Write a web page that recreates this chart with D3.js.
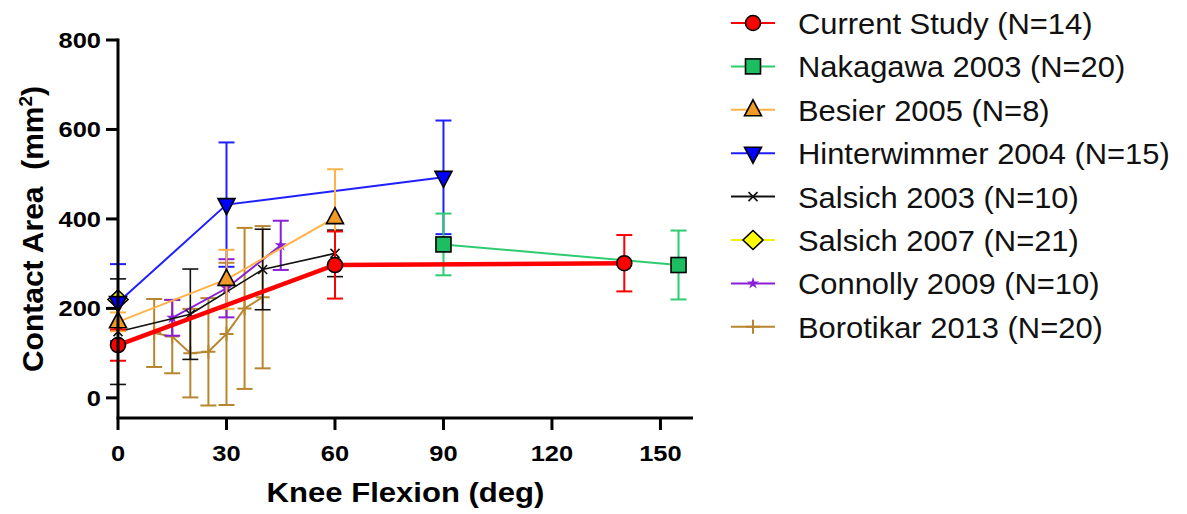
<!DOCTYPE html>
<html><head><meta charset="utf-8">
<script src="https://cdn.jsdelivr.net/npm/d3@7"></script>
<style>body{margin:0;background:#fff}svg{display:block}</style>
</head><body>
<svg id="c" width="1187" height="514"></svg>
<script>
// ---- data ----
const xTicks = [0, 30, 60, 90, 120, 150];
const yTicks = [0, 200, 400, 600, 800];

const currentX = [0, 60, 140],  currentY = [118, 297, 301], currentE = [35, 75, 63];
const nakaX = [90, 155],        nakaY = [343, 297],         nakaE = [69, 77];
const besierX = [0, 30, 60],    besierY = [170, 265, 403],  besierE = [21, 66, 108];
const hinterX = [0, 30, 90],    hinterY = [213, 432, 493],  hinterE = [86, 139, 127];
const sals03X = [0, 20, 40, 60], sals03Y = [148, 187, 287, 323], sals03E = [118, 101, 90, 52];
const sals07X = [0],            sals07Y = [220],            sals07E = [0];
const connX = [15, 30, 45],     connY = [179, 245, 341],    connE = [40, 65, 55];
const boroX = [10, 15, 20, 25, 30, 35, 40];
const boroY = [145, 137, 100, 103, 143, 200, 225];
const boroE = [76, 82, 99, 120, 159, 180, 159];

const names = ["Current Study (N=14)", "Nakagawa 2003 (N=20)", "Besier 2005 (N=8)",
  "Hinterwimmer 2004 (N=15)", "Salsich 2003 (N=10)", "Salsich 2007 (N=21)",
  "Connolly 2009 (N=10)", "Borotikar 2013 (N=20)"];

const series = [
  {name: names[0], x: currentX, y: currentY, e: currentE, line: "#ff0000", lw: 4.5, sym: "circle", fill: "#ff0000"},
  {name: names[1], x: nakaX, y: nakaY, e: nakaE, line: "#2ecc71", lw: 2, sym: "square", fill: "#1dbd62"},
  {name: names[2], x: besierX, y: besierY, e: besierE, line: "#ffb246", lw: 2, sym: "triUp", fill: "#f09a26"},
  {name: names[3], x: hinterX, y: hinterY, e: hinterE, line: "#1f1fff", lw: 2, sym: "triDown", fill: "#0000ff"},
  {name: names[4], x: sals03X, y: sals03Y, e: sals03E, line: "#111111", lw: 1.6, sym: "x", fill: "#111111"},
  {name: names[5], x: sals07X, y: sals07Y, e: sals07E, line: "#f2f200", lw: 2, sym: "diamond", fill: "#ffff00"},
  {name: names[6], x: connX, y: connY, e: connE, line: "#8a1fd8", lw: 2, sym: "star", fill: "#8a1fd8"},
  {name: names[7], x: boroX, y: boroY, e: boroE, line: "#b8862e", lw: 2, sym: "plus", fill: "#b8862e"}
];

const svg = d3.select("#c");
const FONT = "'Liberation Sans', Arial, Helvetica, sans-serif";
const x = d3.scaleLinear().domain([0, 159]).range([118, 693]);
const y = d3.scaleLinear().domain([-45, 800]).range([418, 40]);

function stretch(sel, k) {
  sel.each(function () {
    const L = this.getComputedTextLength();
    d3.select(this).attr("textLength", L * k).attr("lengthAdjust", "spacingAndGlyphs");
  });
}

function marker(g, s, cx, cy) {
  if (s.sym === "circle") {
    g.append("circle").attr("cx", cx).attr("cy", cy).attr("r", 7.5).attr("fill", s.fill).attr("stroke", "#000").attr("stroke-width", 1.6);
  } else if (s.sym === "square") {
    g.append("rect").attr("x", cx - 7.5).attr("y", cy - 7.5).attr("width", 15).attr("height", 15).attr("fill", s.fill).attr("stroke", "#000").attr("stroke-width", 1.6);
  } else if (s.sym === "triUp") {
    g.append("path").attr("d", `M${cx},${cy - 10}L${cx + 8.5},${cy + 6}L${cx - 8.5},${cy + 6}Z`).attr("fill", s.fill).attr("stroke", "#000").attr("stroke-width", 1.6);
  } else if (s.sym === "triDown") {
    g.append("path").attr("d", `M${cx},${cy + 10}L${cx + 8.5},${cy - 6}L${cx - 8.5},${cy - 6}Z`).attr("fill", s.fill).attr("stroke", "#000").attr("stroke-width", 1.6);
  } else if (s.sym === "diamond") {
    g.append("path").attr("d", `M${cx},${cy - 9.5}L${cx + 10},${cy}L${cx},${cy + 9.5}L${cx - 10},${cy}Z`).attr("fill", s.fill).attr("stroke", "#000").attr("stroke-width", 1.6);
  } else if (s.sym === "x") {
    g.append("path").attr("d", `M${cx - 4.5},${cy - 4.5}L${cx + 4.5},${cy + 4.5}M${cx - 4.5},${cy + 4.5}L${cx + 4.5},${cy - 4.5}`).attr("stroke", s.fill).attr("stroke-width", 1.6);
  } else if (s.sym === "star") {
    g.append("path").attr("d", d3.symbol(d3.symbolStar, 45)()).attr("transform", `translate(${cx},${cy})`).attr("fill", s.fill);
  } else if (s.sym === "plus") {
    g.append("path").attr("d", `M${cx - 7},${cy}L${cx + 7},${cy}M${cx},${cy - 7}L${cx},${cy + 7}`).attr("stroke", s.fill).attr("stroke-width", 2);
  }
}

// ---- series (drawn bottom to top: last legend entry first) ----
const plot = svg.append("g");
[...series].reverse().forEach(s => {
  const g = plot.append("g");
  const pts = s.x.map((d, i) => [d, s.y[i], s.e[i]]);
  const ew = Math.min(s.lw, 2);
  pts.forEach(p => {
    if (p[2] <= 0) return;
    const cx = x(p[0]), y1 = y(p[1] + p[2]), y0 = y(p[1] - p[2]);
    g.append("line").attr("x1", cx).attr("x2", cx).attr("y1", y1).attr("y2", y0).attr("stroke", s.line).attr("stroke-width", ew);
    [y1, y0].forEach(yy => g.append("line").attr("x1", cx - 8).attr("x2", cx + 8).attr("y1", yy).attr("y2", yy).attr("stroke", s.line).attr("stroke-width", ew));
  });
  g.append("path").attr("d", d3.line().x(p => x(p[0])).y(p => y(p[1]))(pts))
    .attr("fill", "none").attr("stroke", s.line).attr("stroke-width", s.lw);
  pts.forEach(p => marker(g, s, x(p[0]), y(p[1])));
});

// ---- axes ----
const ax = svg.append("g").attr("stroke", "#000").attr("stroke-width", 3);
ax.append("line").attr("x1", x(0)).attr("x2", x(0)).attr("y1", y(800) - 1.5).attr("y2", 418);
ax.append("line").attr("x1", x(0) - 1.5).attr("x2", x(159)).attr("y1", 418).attr("y2", 418);
yTicks.forEach(t => ax.append("line").attr("x1", x(0) - 12).attr("x2", x(0)).attr("y1", y(t)).attr("y2", y(t)));
xTicks.forEach(t => ax.append("line").attr("x1", x(t)).attr("x2", x(t)).attr("y1", 418).attr("y2", 430));

const yl = svg.append("g").selectAll("text").data(yTicks).join("text")
  .attr("x", x(0) - 17).attr("y", d => y(d) + 8).attr("text-anchor", "end")
  .attr("font-family", FONT).attr("font-weight", "bold").attr("font-size", 22.5).text(d => d);
stretch(yl, 1.13);
const xl = svg.append("g").selectAll("text").data(xTicks).join("text")
  .attr("x", d => x(d)).attr("y", 461).attr("text-anchor", "middle")
  .attr("font-family", FONT).attr("font-weight", "bold").attr("font-size", 22.5).text(d => d);
stretch(xl, 1.13);

const xt = svg.append("text").attr("x", (x(0) + x(159)) / 2).attr("y", 502).attr("text-anchor", "middle")
  .attr("font-family", FONT).attr("font-weight", "bold").attr("font-size", 27).text("Knee Flexion (deg)");
stretch(xt, 1.15);
const yt = svg.append("text").attr("transform", `translate(43,${(y(800) + 418) / 2}) rotate(-90)`).attr("text-anchor", "middle")
  .attr("font-family", FONT).attr("font-weight", "bold").attr("font-size", 30);
yt.append("tspan").text("Contact Area\u00a0\u00a0(mm");
yt.append("tspan").attr("font-size", 19).attr("dy", -11).text("2");
yt.append("tspan").attr("dy", 11).text(")");

// ---- legend ----
const leg = svg.append("g");
series.forEach((s, i) => {
  const cy = 23 + i * 43.4;
  const g = leg.append("g");
  g.append("line").attr("x1", 731).attr("x2", 775).attr("y1", cy).attr("y2", cy).attr("stroke", s.line).attr("stroke-width", 2);
  marker(g, s, 753, cy);
  const t = g.append("text").attr("x", 798).attr("y", cy + 11).attr("font-family", FONT).attr("font-size", 30).attr("fill", "#111").text(s.name);
  stretch(t, 1.03);
});
</script>
</body></html>
